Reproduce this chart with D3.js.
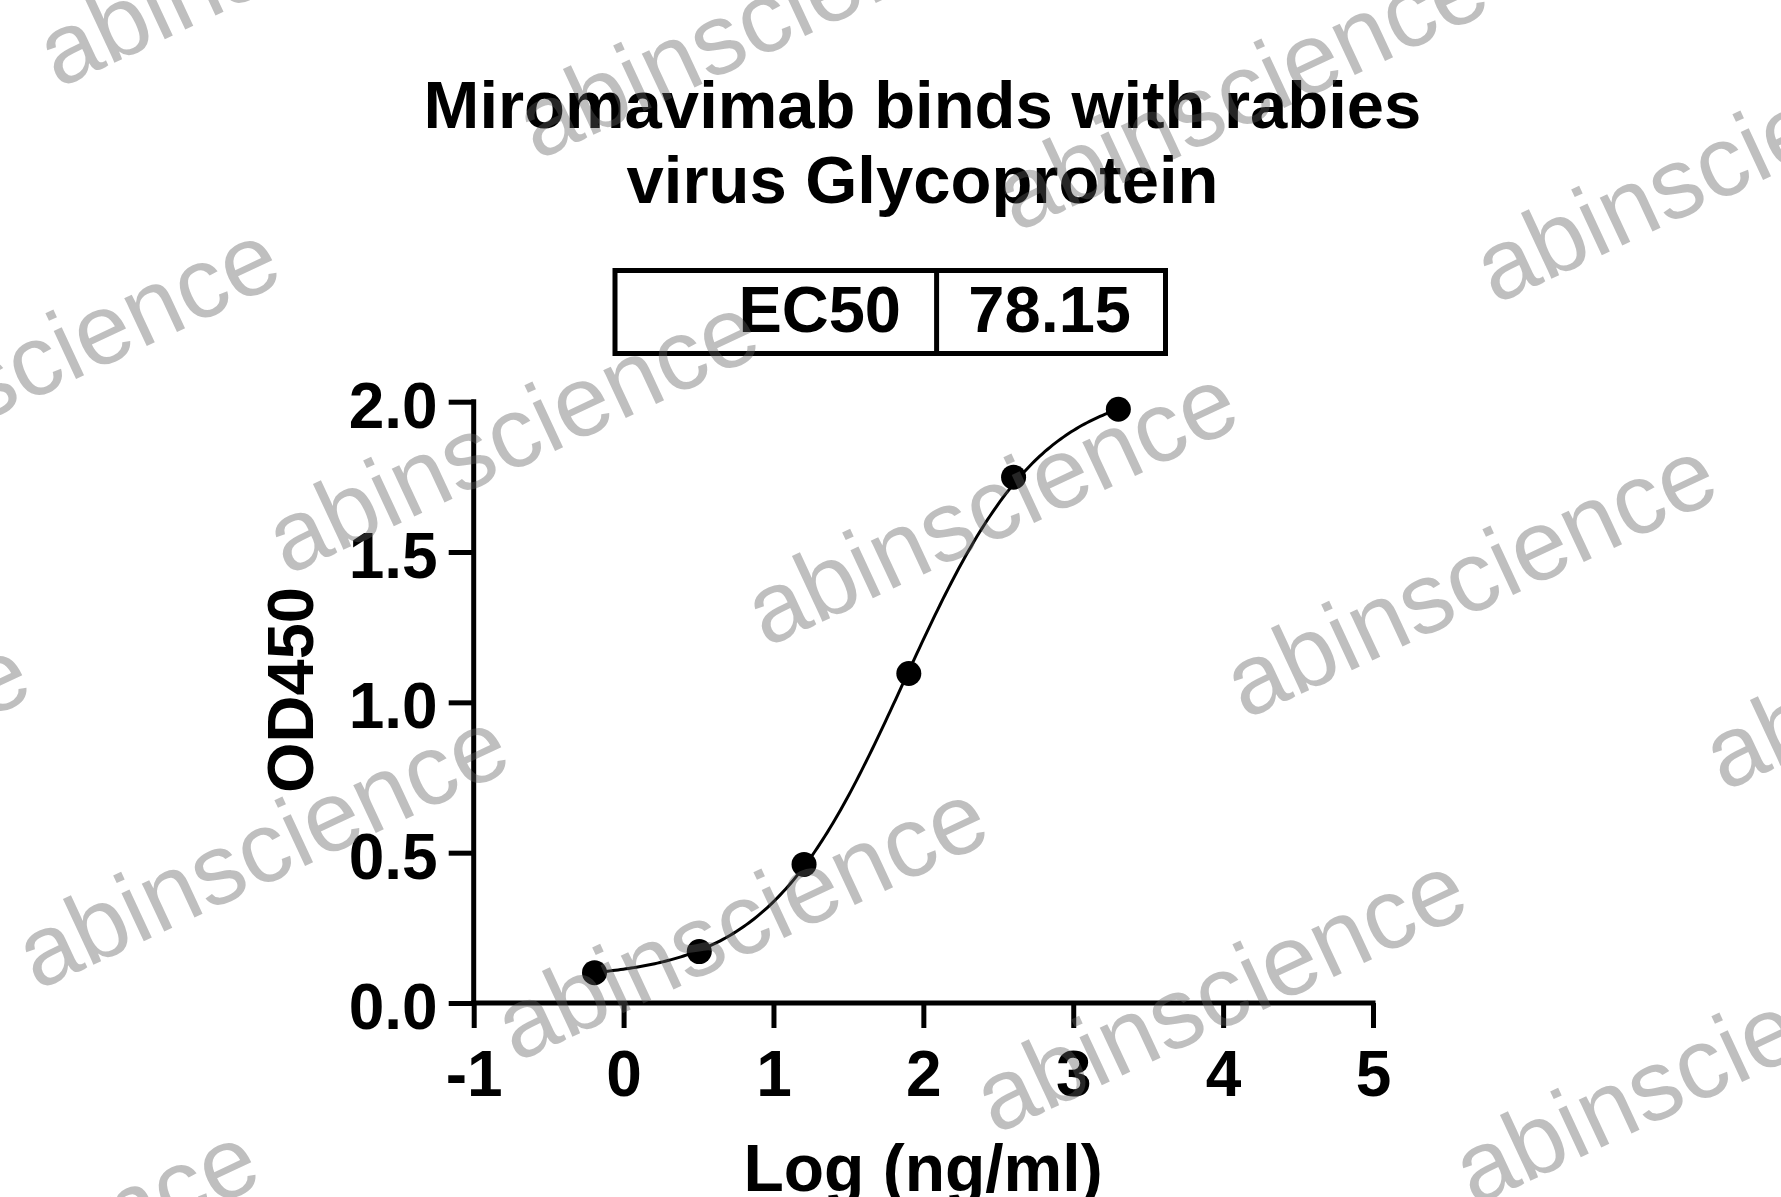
<!DOCTYPE html>
<html>
<head>
<meta charset="utf-8">
<script src="https://cdn.jsdelivr.net/npm/d3@7"></script>
<style>
  html, body { margin: 0; padding: 0; background: #fff; }
  svg { display: block; }
  text { font-family: "Liberation Sans", Arial, Helvetica, sans-serif; }
</style>
</head>
<body>
<svg id="chart" width="1781" height="1197"></svg>
<script>
// ---- data ----
const logConc = [-0.194, 0.505, 1.204, 1.903, 2.602, 3.301];
const od450   = [0.101, 0.171, 0.461, 1.096, 1.749, 1.975];
const xTicks = [-1, 0, 1, 2, 3, 4, 5];
const xTickLabels = ["-1", "0", "1", "2", "3", "4", "5"];
const yTicks = [0, 0.5, 1.0, 1.5, 2.0];
const yTickLabels = ["0.0", "0.5", "1.0", "1.5", "2.0"];
const titleLines = ["Miromavimab binds with rabies", "virus Glycoprotein"];
const tableLabel = "EC50";
const tableValue = "78.15";
// 4PL fit parameters of the drawn curve
const fitBottom = 0.08, fitTop = 2.058, fitLogEC50 = 1.87, fitHill = 0.95;
const watermark = "abinscience";

const svg = d3.select("#chart");
const W = 1781, H = 1197;
svg.append("rect").attr("width", W).attr("height", H).attr("fill", "#fff");

const x = d3.scaleLinear().domain([-1, 5]).range([473.7, 1373]);
const y = d3.scaleLinear().domain([0, 2]).range([1003, 401.7]);

// title
svg.append("g").selectAll("text").data(titleLines).join("text")
  .attr("x", 922.5).attr("y", (d, i) => 128.3 + i * 75)
  .attr("text-anchor", "middle").attr("font-size", 67).attr("font-weight", "bold")
  .attr("fill", "#000").text(d => d);

// EC50 table
const tbl = svg.append("g");
tbl.append("rect").attr("x", 615).attr("y", 270.5).attr("width", 550.5).attr("height", 83)
  .attr("fill", "none").attr("stroke", "#000").attr("stroke-width", 5);
tbl.append("line").attr("x1", 936.6).attr("x2", 936.6).attr("y1", 270.5).attr("y2", 353.5)
  .attr("stroke", "#000").attr("stroke-width", 5);
tbl.append("text").attr("x", 901).attr("y", 332).attr("text-anchor", "end")
  .attr("font-size", 65).attr("font-weight", "bold").text(tableLabel);
tbl.append("text").attr("x", 1131).attr("y", 332).attr("text-anchor", "end")
  .attr("font-size", 65).attr("font-weight", "bold").text(tableValue);

// axes
const yAxis = d3.axisLeft(y).tickValues(yTicks).tickFormat((d, i) => yTickLabels[i])
  .tickSize(25).tickSizeOuter(0).tickPadding(11);
const gy = svg.append("g").attr("transform", `translate(${x(-1)},0)`).call(yAxis);
gy.selectAll("text").attr("font-size", 64).attr("font-weight", "bold").attr("fill", "#000")
  .attr("dy", "0.4em").attr("font-family", "Liberation Sans, Arial, sans-serif");

const xAxis = d3.axisBottom(x).tickValues(xTicks).tickFormat((d, i) => xTickLabels[i])
  .tickSize(25).tickSizeOuter(0).tickPadding(23);
const gx = svg.append("g").attr("transform", `translate(0,${y(0)})`).call(xAxis);
gx.selectAll("text").attr("font-size", 64).attr("font-weight", "bold").attr("fill", "#000")
  .attr("font-family", "Liberation Sans, Arial, sans-serif");

[gx, gy].forEach(g => {
  g.select(".domain").attr("stroke", "#000").attr("stroke-width", 5);
  g.selectAll(".tick line").attr("stroke", "#000").attr("stroke-width", 5);
});
gx.select(".domain").attr("d", `M${x(-1) - 2.5},0H${x(5) + 2.5}`);
gy.select(".domain").attr("d", `M0,${y(2) - 2.5}V${y(0)}`);

// axis titles
svg.append("text").attr("transform", "translate(313,690) rotate(-90)")
  .attr("text-anchor", "middle").attr("font-size", 65).attr("font-weight", "bold").text("OD450");
svg.append("text").attr("x", 923).attr("y", 1191)
  .attr("text-anchor", "middle").attr("font-size", 66).attr("font-weight", "bold").text("Log (ng/ml)");

// fitted curve
const fit4pl = v => fitBottom + (fitTop - fitBottom) / (1 + Math.pow(10, (fitLogEC50 - v) * fitHill));
const xmin = d3.min(logConc), xmax = d3.max(logConc);
const curvePts = d3.range(0, 201).map(i => xmin + (xmax - xmin) * i / 200);
svg.append("path").datum(curvePts)
  .attr("d", d3.line().x(v => x(v)).y(v => y(fit4pl(v))))
  .attr("fill", "none").attr("stroke", "#000").attr("stroke-width", 3);

// points
svg.append("g").selectAll("circle").data(logConc).join("circle")
  .attr("cx", d => x(d)).attr("cy", (d, i) => y(od450[i])).attr("r", 12.5).attr("fill", "#000");

// watermarks
const O = [766, 648], A = [479, 72], B = [-250, 415];
const wm = [];
for (let i = -3; i <= 3; i++) for (let j = -2; j <= 2; j++) {
  const px = O[0] + i * A[0] + j * B[0], py = O[1] + i * A[1] + j * B[1];
  if (px > -700 && px < W + 50 && py > -300 && py < H + 300) wm.push([px, py]);
}
svg.append("g").attr("pointer-events", "none").selectAll("text").data(wm).join("text")
  .attr("transform", d => `translate(${d[0]},${d[1]}) rotate(-25)`)
  .attr("font-size", 100).attr("fill", "#5e5e5e").attr("fill-opacity", 0.4)
  .text(watermark);
</script>
</body>
</html>
